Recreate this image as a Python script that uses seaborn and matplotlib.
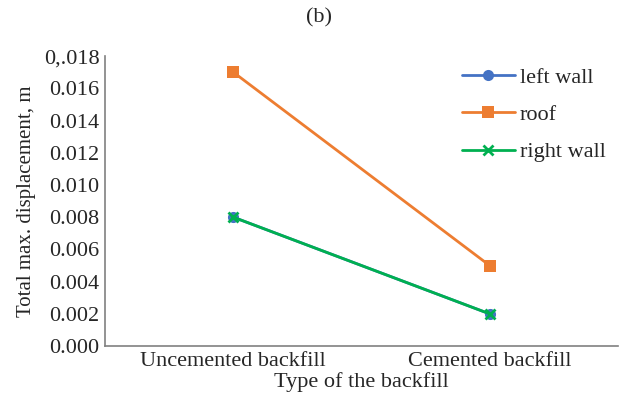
import pandas as pd
import seaborn as sb
import matplotlib.pyplot as plt

# values
backfill = ["Uncemented backfill", "Cemented backfill"]
left_wall = [0.008, 0.002]
roof = [0.017, 0.005]
right_wall = [0.008, 0.002]
series_names = ["left wall", "roof", "right wall"]
y_ticks = [0.000, 0.002, 0.004, 0.006, 0.008, 0.010, 0.012, 0.014, 0.016, 0.018]
y_labels = ["0.000", "0.002", "0.004", "0.006", "0.008", "0.010",
            "0.012", "0.014", "0.016", "0,.018"]

rows = []
for name, vals in zip(series_names, [left_wall, roof, right_wall]):
    for b, v in zip(backfill, vals):
        rows.append({"type": b, "disp": v, "series": name})
df = pd.DataFrame(rows)

sb.set_style("white")
plt.rcParams["font.family"] = ["Liberation Serif", "DejaVu Serif"]

fig = plt.figure(figsize=(6.19, 4.01), dpi=100)
ax = fig.add_axes([0.170, 0.137, 0.828, 0.723])

colors = {"left wall": "#4472C4", "roof": "#ED7D31", "right wall": "#00B050"}
sb.lineplot(data=df, x="type", y="disp", hue="series", palette=colors,
            marker="o", linewidth=2, markersize=8, markeredgewidth=0,
            legend=False, ax=ax)

# marker shapes like the original (seaborn won't mix filled and line markers)
ax.lines[1].set_marker("s")
ax.lines[1].set_markersize(8.5)
ax.lines[2].set_marker("x")
ax.lines[2].set_markersize(7)
ax.lines[2].set_markeredgewidth(2)
ax.lines[2].set_markeredgecolor("#00B050")

ax.set_xlim(-0.5, 1.5)
ax.set_ylim(0, 0.018)
ax.set_yticks(y_ticks)
ax.set_yticklabels(y_labels)
ax.tick_params(labelsize=16, length=0, pad=4)
ax.set_xlabel("Type of the backfill", fontsize=16, labelpad=1)
ax.set_ylabel("Total max. displacement, m", fontsize=15, labelpad=6)
for s in ["top", "right"]:
    ax.spines[s].set_visible(False)
for s in ["left", "bottom"]:
    ax.spines[s].set_color("#808080")
    ax.spines[s].set_linewidth(1.2)

ax.legend(ax.lines[:3], series_names, loc="upper right",
          bbox_to_anchor=(1.015, 1.03), frameon=False, fontsize=16,
          handlelength=2.4, labelspacing=0.75, handletextpad=0.2)
fig.text(0.515, 0.955, "(b)", ha="center", va="center", fontsize=16)

fig.savefig("out.png", dpi=100)
